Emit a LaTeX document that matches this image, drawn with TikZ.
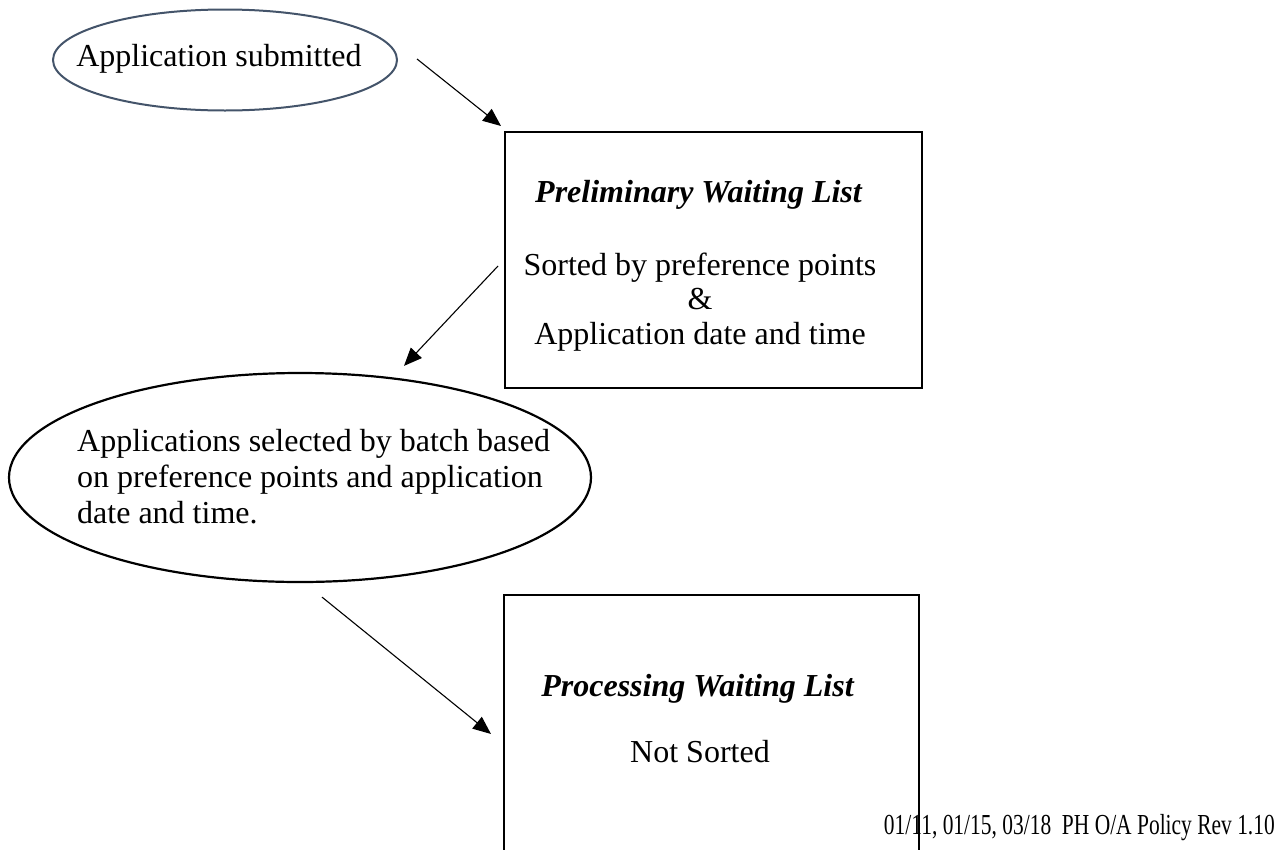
\documentclass[tikz,border=0pt]{standalone}
\usepackage{fontspec}
\setmainfont{Liberation Serif}
\newfontfamily\footfont[FakeStretch=0.74]{Liberation Serif}
\usetikzlibrary{shapes.geometric,arrows.meta}
\definecolor{slate}{RGB}{68,84,106}

\begin{document}
\begin{tikzpicture}[x=1pt, y=-1pt, font=\fontsize{32}{36}\selectfont]
    \tikzstyle{flow}=[-{Triangle[length=18pt,width=15pt]}, line width=1.1pt, black]
    \tikzstyle{bubble}=[ellipse, draw, line width=2.2pt, inner sep=0pt]
    \tikzstyle{listbox}=[rectangle, draw, line width=2pt, inner sep=0pt]
    \tikzstyle{txt}=[inner sep=0pt, anchor=base]
    \tikzstyle{head}=[txt, font=\fontsize{32}{36}\selectfont\bfseries\itshape]

    \useasboundingbox (0,0) rectangle (1282,849);
    \clip (0,0) rectangle (1282,849);

    % the two ellipses
    \node [bubble, draw=slate, line width=2pt, minimum width=344pt, minimum height=101pt] (submitted) at (225,60) {};
    \node [txt] (submitted-text) at (219,66) {Application submitted};

    \node [bubble, minimum width=582pt, minimum height=209pt] (batch) at (300,477.5) {};
    \foreach \line [count=\i] in {Applications selected by batch based,
        on preference points and application, date and time.}
    \node [txt, anchor=base west] (batch-\i) at (77, 415+36*\i) {\line};

    % the two lists
    \node [listbox, minimum width=417pt, minimum height=256pt] (prelim) at (713.5,260) {};
    \node [head] (prelim-head) at (698.5,202) {Preliminary Waiting List};
    \foreach \line [count=\i] in {Sorted by preference points, \&, Application date and time}
    \node [txt] (prelim-\i) at (700, 240.5+34.5*\i) {\line};

    \node [listbox, minimum width=415pt, minimum height=305pt] (process) at (711.5,747.5) {};
    \node [head] (process-head) at (697.5,696) {Processing Waiting List};
    \node [txt] (process-1) at (700,762) {Not Sorted};

    % footer
    \node [txt, anchor=base east, font=\fontsize{29}{32}\footfont] (footer) at (1275,834)
    {01/11, 01/15, 03/18\ \ PH O/A Policy Rev 1.10};

    % arrows between the steps
    \draw [flow] ([shift={(19,-1)}]submitted.east) -- ([shift={(-3,-5)}]prelim.north west);
    \draw [flow] ([shift={(-6,6)}]prelim.west) -- ([shift={(104,-6)}]batch.north);
    \draw [flow] ([shift={(22,14)}]batch.south) -- ([shift={(-12,-13.5)}]process.west);

\end{tikzpicture}
\end{document}
